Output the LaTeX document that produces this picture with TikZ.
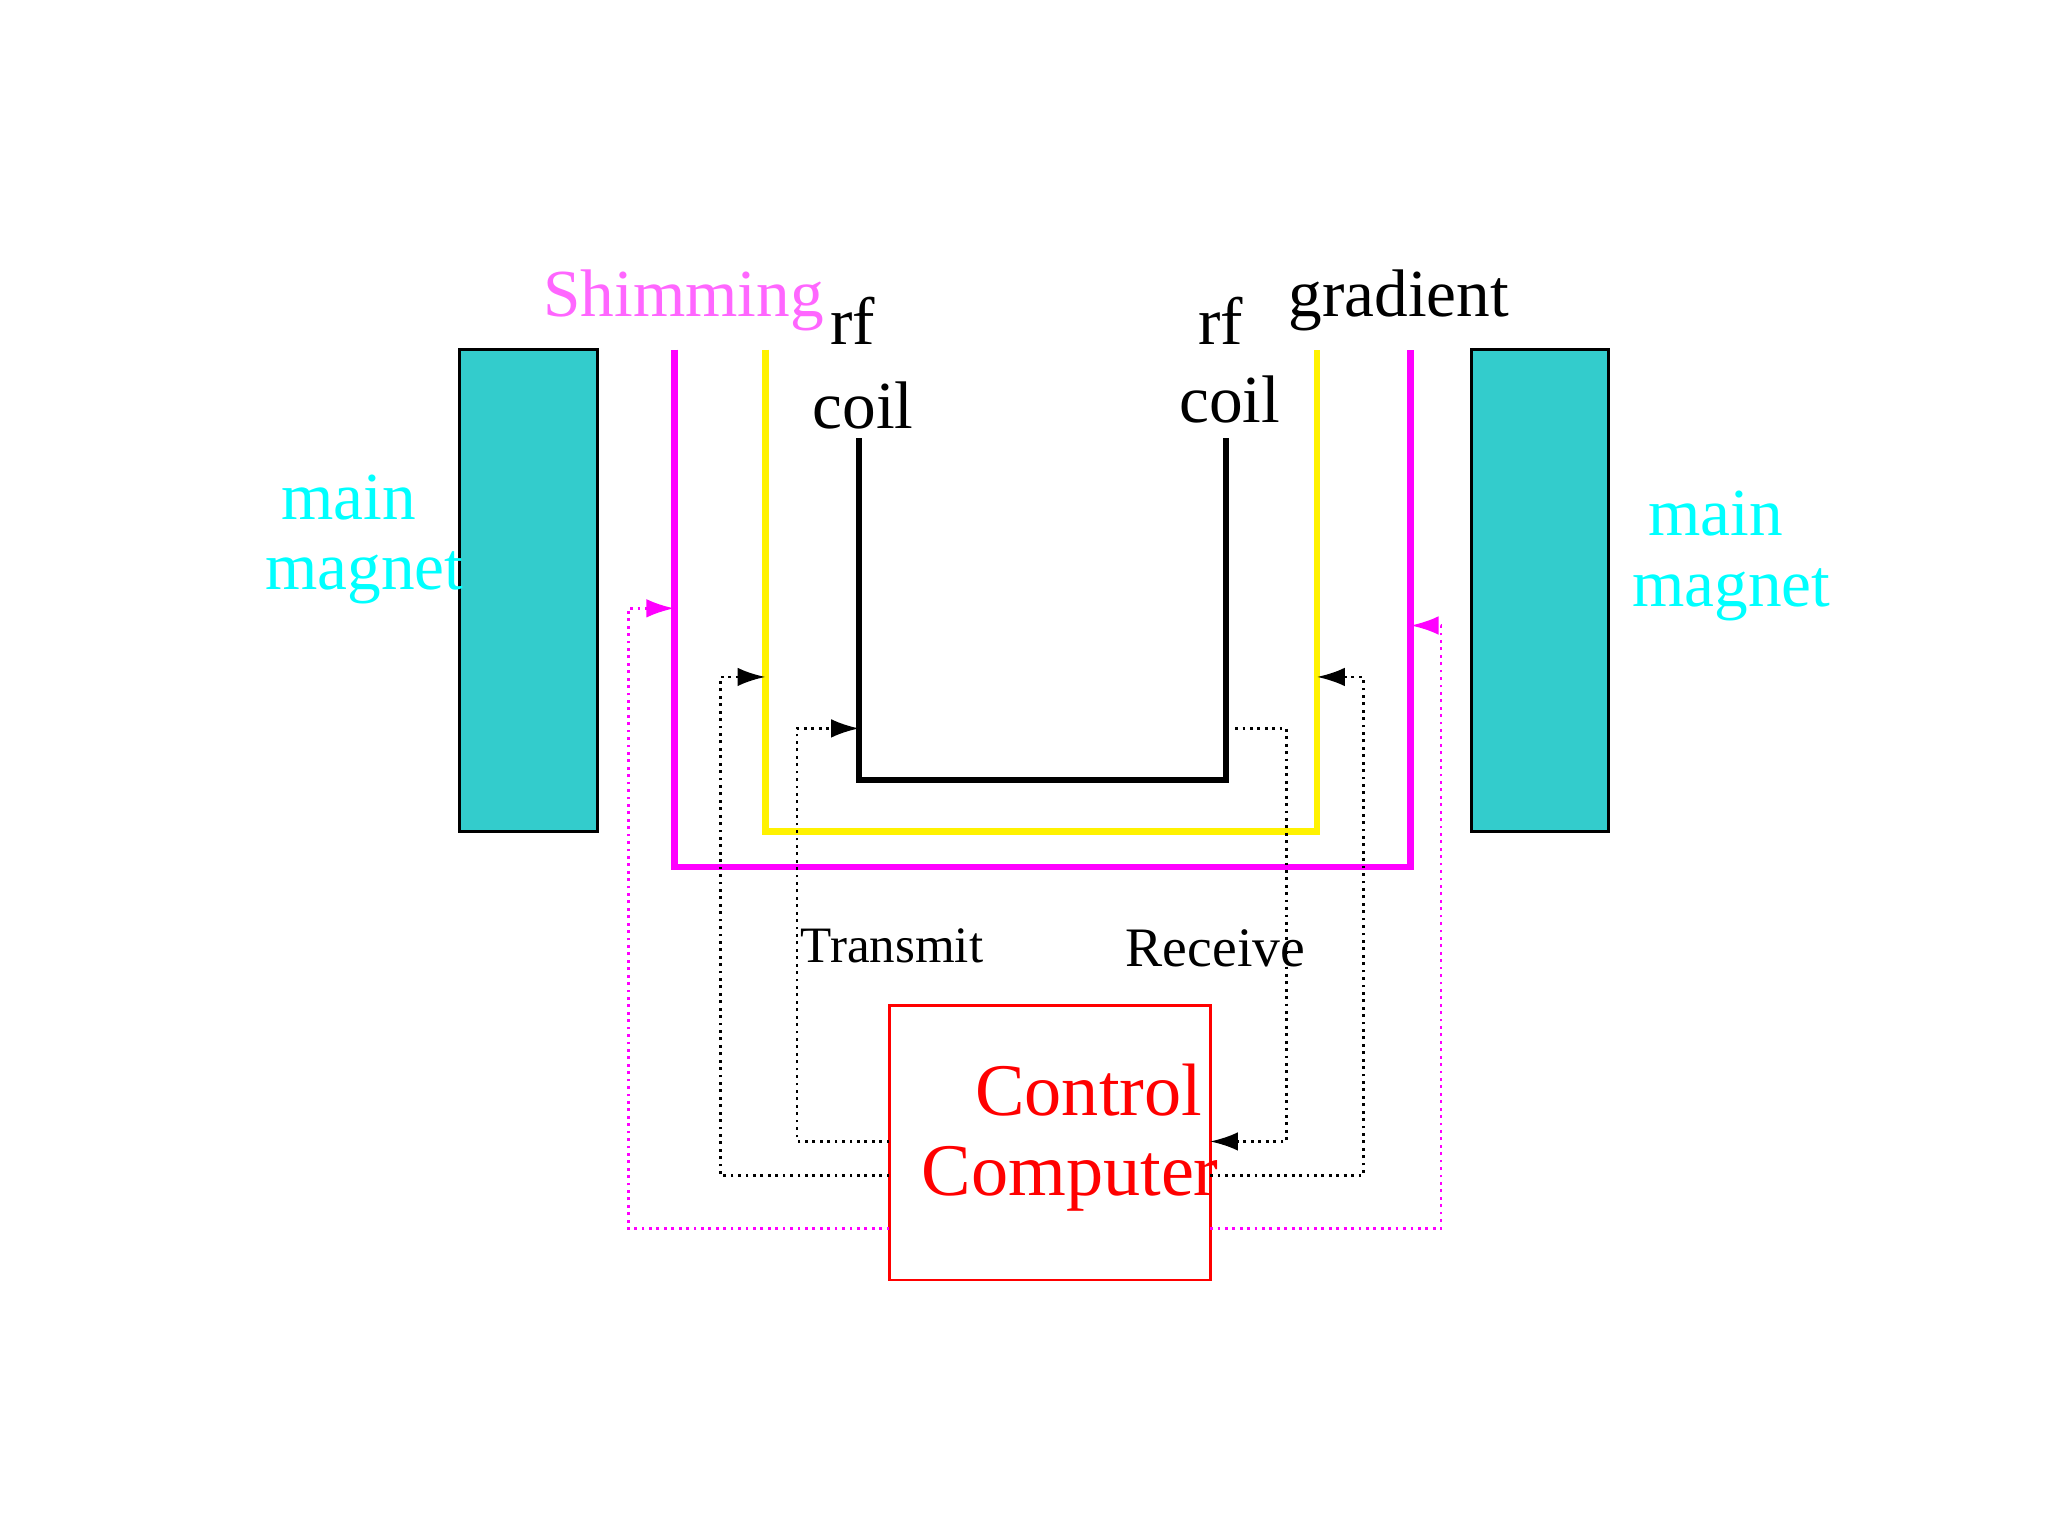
\documentclass[tikz,border=0pt]{standalone}
\usepackage{fontspec}
\setmainfont{Liberation Serif}
\usetikzlibrary{arrows.meta}
\definecolor{teal1}{HTML}{33CCCC}
\definecolor{cyan1}{HTML}{00FFFF}
\definecolor{mag}{HTML}{FF00FF}
\definecolor{shim}{HTML}{FF66FF}
\begin{document}
\begin{tikzpicture}[x=0.01cm,y=-0.01cm,
  magnet/.style={draw=black,fill=teal1,line width=0.6pt},
  big/.style={font=\fontsize{14.5}{17}\selectfont},
  lbl/.style={big,text=cyan1,align=center},
  dot/.style={dash pattern=on 0.6pt off 1pt,line width=0.6pt,-{Latex[length=6pt,width=4pt]}}]
\useasboundingbox (0,0) rectangle (1552,1164);
\fill[magnet] (348,265) rectangle (453,630);
\fill[magnet] (1115,265) rectangle (1219,630);
\draw[mag,line width=1.4pt] (511,265) -- (511,657) -- (1069,657) -- (1069,265);
\draw[yellow,line width=1.4pt] (580,265) -- (580,630) -- (998,630) -- (998,265);
\draw[black,line width=1.4pt] (651,332) -- (651,591) -- (929,591) -- (929,332);
\node[draw=red,line width=0.6pt,minimum width=2.43cm,minimum height=2.08cm] (cc) at (795.5,866) {};
\node[text=red,align=center,font=\fontsize{16}{17.3}\selectfont] at (811,862) {\ \ Control\\Computer};
\node[big,text=shim] at (518,228) {Shimming};
\node[big] at (646,243) {rf};
\node[big] at (654,307) {coil};
\node[big] at (925,243) {rf};
\node[big] at (932,303) {coil};
\node[big] at (1060,228) {gradient};
\node[lbl] at (264,377) {main};
\node[lbl] at (276,438) {magnet};
\node[lbl] at (1300,389) {main};
\node[lbl] at (1312,451) {magnet};
\node[font=\fontsize{11}{13}\selectfont] at (676,717) {Transmit};
\node[font=\fontsize{12}{14}\selectfont] at (921,719) {Receive};
\draw[dot,mag] (674,931) -- (476,931) -- (476,461) -- (511,461);
\draw[dot,mag] (917,931) -- (1092,931) -- (1092,474) -- (1069,474);
\draw[dot] (674,891) -- (546,891) -- (546,513) -- (580,513);
\draw[dot] (917,891) -- (1033,891) -- (1033,513) -- (998,513);
\draw[dot] (674,865) -- (604,865) -- (604,552) -- (651,552);
\draw[dot] (936,552) -- (975,552) -- (975,865) -- (917,865);
\end{tikzpicture}
\end{document}
